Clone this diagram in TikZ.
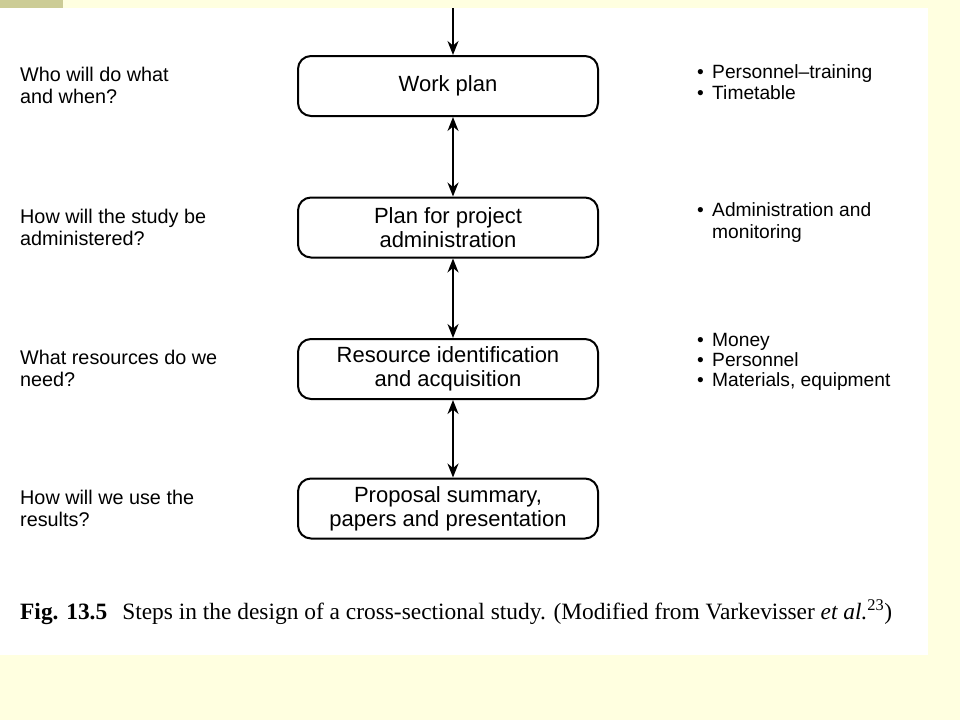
\documentclass[tikz,border=0pt]{standalone}
\usepackage{fontspec}
\setmainfont{Liberation Serif}
\newfontfamily\sansf{Liberation Sans}
\usetikzlibrary{arrows.meta}
\definecolor{bgyellow}{RGB}{255,255,224}
\definecolor{olivebar}{RGB}{204,204,150}
\newcommand{\bul}{\makebox[15pt][l]{\textbullet}}
\newcommand{\nobul}{\hspace*{15pt}}
\begin{document}
\begin{tikzpicture}[x=1pt,y=-1pt,
  stepbox/.style={draw, line width=2pt, rounded corners=13pt, minimum width=300pt, minimum height=60pt, align=center, font=\sansf\fontsize{22}{24}\selectfont, inner sep=0pt},
  sidetext/.style={anchor=west, align=left, font=\sansf\fontsize{19.8}{22}\selectfont, inner sep=0pt},
  tip/.style={-{Stealth[length=14pt,width=11pt]}},
  link/.style={line width=2pt, {Stealth[length=14pt,width=11pt]}-{Stealth[length=14pt,width=11pt]}}
]
\useasboundingbox (0,0) rectangle (960,720);
\fill[bgyellow] (0,0) rectangle (960,720);
\fill[olivebar] (0,0) rectangle (63,8);
\fill[white] (0,8) rectangle (928,655);

\node[stepbox] (b1) at (448,86) {Work plan};
\node[stepbox] (b2) at (448,227.5) {Plan for project\\administration};
\node[stepbox] (b3) at (448,369) {Resource identification\\and acquisition};
\node[stepbox] (b4) at (448,508.5) {Proposal summary,\\papers and presentation};

\coordinate (top) at (453,8);
\draw[line width=2pt, tip] (top) -- ([xshift=5pt]b1.north);
\draw[link] ([xshift=5pt]b1.south) -- ([xshift=5pt]b2.north);
\draw[link] ([xshift=5pt]b2.south) -- ([xshift=5pt]b3.north);
\draw[link] ([xshift=5pt]b3.south) -- ([xshift=5pt]b4.north);

\node[sidetext] (q1) at (20,85) {Who will do what\\and when?};
\node[sidetext] (q2) at (20,227.5) {How will the study be\\administered?};
\node[sidetext] (q3) at (20,368.5) {What resources do we\\need?};
\node[sidetext] (q4) at (20,508) {How will we use the\\results?};

\node[sidetext, font=\sansf\fontsize{19.2}{21}\selectfont] (r1) at (697,82.5) {\bul Personnel–training\\\bul Timetable};
\node[sidetext, font=\sansf\fontsize{19.2}{22}\selectfont] (r2) at (697,223) {\bul Administration and\\\nobul monitoring};
\node[sidetext, font=\sansf\fontsize{19.2}{20}\selectfont] (r3) at (697,362) {\bul Money\\\bul Personnel\\\bul Materials, equipment};

\node[anchor=west, inner sep=0pt, font=\fontsize{23.4}{26}\selectfont] (cap) at (20,612) {\textbf{Fig. 13.5}\hspace{15pt}Steps in the design of a cross-sectional study. (Modified from Varkevisser \textit{et al.}\textsuperscript{23})};
\end{tikzpicture}
\end{document}
